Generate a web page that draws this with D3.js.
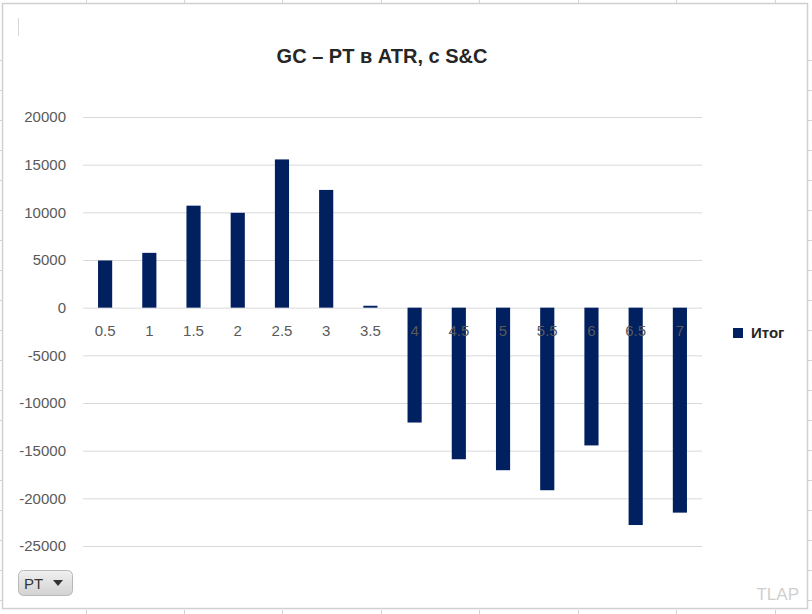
<!DOCTYPE html>
<html><head><meta charset="utf-8">
<script src="https://cdn.jsdelivr.net/npm/d3@7"></script>
<style>html,body{margin:0;padding:0;background:#fff;}svg{display:block;}</style>
</head><body>
<script>
const categories = ["0.5","1","1.5","2","2.5","3","3.5","4","4.5","5","5.5","6","6.5","7"];
const values = [4950, 5750, 10700, 9950, 15550, 12350, 200, -12050, -15900, -17050, -19150, -14450, -22800, -21500];
const yTicks = [20000, 15000, 10000, 5000, 0, -5000, -10000, -15000, -20000, -25000];
const seriesName = "Итог";
const title = "GC – PT в ATR, с S&C";

const W = 812, H = 614;
const svg = d3.select("body").append("svg").attr("width", W).attr("height", H);

// spreadsheet background grid
const sheet = svg.append("g").attr("stroke", "#d4d4d4").attr("stroke-width", 1);
[86, 184, 282, 381, 479, 578, 676, 775].forEach(x => {
  sheet.append("line").attr("x1", x + 0.5).attr("x2", x + 0.5).attr("y1", 0).attr("y2", 4);
  sheet.append("line").attr("x1", x + 0.5).attr("x2", x + 0.5).attr("y1", 610).attr("y2", 614);
});
[60, 90, 120, 150, 180, 210, 240, 270, 300, 330, 360, 390, 420, 450, 480, 510, 540, 570, 600].forEach(y => {
  sheet.append("line").attr("x1", 0).attr("x2", 2).attr("y1", y + 0.5).attr("y2", y + 0.5);
  sheet.append("line").attr("x1", 808).attr("x2", 812).attr("y1", y + 0.5).attr("y2", y + 0.5);
});

// chart frame
svg.append("rect").attr("x", 2.5).attr("y", 3.5).attr("width", 805).attr("height", 605)
  .attr("fill", "#fff").attr("stroke", "#d0d0d0").attr("stroke-width", 1.5);

// cursor mark
svg.append("line").attr("x1", 18.5).attr("x2", 18.5).attr("y1", 18).attr("y2", 36)
  .attr("stroke", "#d8d8d8").attr("stroke-width", 1);

// title
svg.append("text").attr("x", 382).attr("y", 63).attr("text-anchor", "middle")
  .attr("font-family", "Liberation Sans, Arial, sans-serif").attr("font-weight", "bold")
  .attr("font-size", 20).attr("fill", "#262626").text(title);

const plotL = 83, plotR = 702;
const x = d3.scaleBand().domain(categories).range([plotL, plotR]).paddingInner(0.68).paddingOuter(0.34);
const y = d3.scaleLinear().domain([-25000, 20000]).range([546, 117]);

// gridlines
const yAxis = d3.axisLeft(y).tickValues(yTicks).tickSize(-(plotR - plotL)).tickFormat(d => String(d));
const gy = svg.append("g").attr("transform", `translate(${plotL},0)`).call(yAxis);
gy.select(".domain").remove();
gy.selectAll(".tick line").attr("stroke", "#d9d9d9").attr("stroke-width", 1);
gy.selectAll(".tick text").attr("x", -17).attr("fill", "#595959")
  .attr("font-family", "Liberation Sans, Arial, sans-serif").attr("font-size", 15);

// bars
svg.append("g").selectAll("rect").data(values).join("rect")
  .attr("x", (d, i) => x(categories[i]))
  .attr("width", x.bandwidth())
  .attr("y", d => Math.min(y(d), y(0)))
  .attr("height", d => Math.abs(y(d) - y(0)))
  .attr("fill", "#002060");

// x axis labels (drawn over bars, near zero)
const xAxis = d3.axisBottom(x).tickSize(0).tickPadding(0);
const gx = svg.append("g").attr("transform", `translate(0,${y(0)})`).call(xAxis);
gx.select(".domain").remove();
gx.selectAll(".tick text").attr("fill", "#595959").attr("dy", null)
  .attr("font-family", "Liberation Sans, Arial, sans-serif").attr("font-size", 15)
  .attr("y", 28);

// legend
svg.append("rect").attr("x", 733).attr("y", 328).attr("width", 10).attr("height", 10).attr("fill", "#002060");
svg.append("text").attr("x", 751).attr("y", 338)
  .attr("font-family", "Liberation Sans, Arial, sans-serif").attr("font-weight", "bold")
  .attr("font-size", 15).attr("fill", "#262626").text(seriesName);

// PT button
const defs = svg.append("defs");
const grad = defs.append("linearGradient").attr("id", "btn").attr("x1", 0).attr("y1", 0).attr("x2", 0).attr("y2", 1);
grad.append("stop").attr("offset", "0%").attr("stop-color", "#f0f0f0");
grad.append("stop").attr("offset", "100%").attr("stop-color", "#d2d2d2");
svg.append("rect").attr("x", 18.5).attr("y", 570.5).attr("width", 54).attr("height", 25).attr("rx", 5)
  .attr("fill", "url(#btn)").attr("stroke", "#b8b8b8");
svg.append("text").attr("x", 24).attr("y", 589)
  .attr("font-family", "Liberation Sans, Arial, sans-serif").attr("font-size", 15).attr("fill", "#333").text("PT");
svg.append("path").attr("d", "M53,580 L63,580 L58,586 Z").attr("fill", "#333");

// TLAP watermark
svg.append("text").attr("x", 799).attr("y", 600).attr("text-anchor", "end")
  .attr("font-family", "Liberation Sans, Arial, sans-serif").attr("font-size", 17).attr("fill", "#cfcfcf").text("TLAP");
</script>
</body></html>
